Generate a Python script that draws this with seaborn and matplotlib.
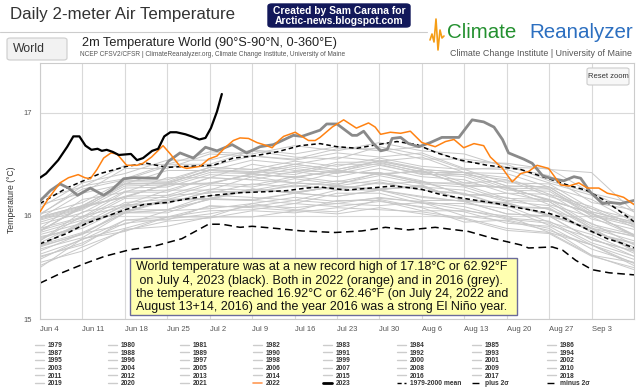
import numpy as np
import pandas as pd
import matplotlib.pyplot as plt
import seaborn as sns
import matplotlib.transforms as mtransforms
from matplotlib.lines import Line2D
from matplotlib.patches import FancyBboxPatch, Rectangle

W, H = 640, 392  # figure size in pixels

# x axis = days after Jun 4
tick_days = [0, 7, 14, 21, 28, 35, 42, 49, 56, 63, 70, 77, 84, 91]
tick_labels = ['Jun 4', 'Jun 11', 'Jun 18', 'Jun 25', 'Jul 2', 'Jul 9', 'Jul 16',
               'Jul 23', 'Jul 30', 'Aug 6', 'Aug 13', 'Aug 20', 'Aug 27', 'Sep 3']

# background years (read roughly, weekly)
grid_days = [0, 7, 14, 21, 28, 35, 42, 49, 56, 63, 70, 77, 84, 91, 98]
grey_years = {
    1979: [15.60, 15.74, 15.93, 15.97, 16.02, 16.10, 16.08, 16.12, 16.10, 16.13, 16.00, 15.95, 15.86, 15.72, 15.52],
    1980: [15.66, 15.83, 15.92, 16.05, 16.07, 16.12, 16.18, 16.14, 16.17, 16.14, 16.09, 15.98, 15.95, 15.74, 15.61],
    1981: [15.71, 15.82, 16.06, 16.06, 16.20, 16.18, 16.15, 16.25, 16.25, 16.15, 16.15, 16.10, 15.94, 15.82, 15.64],
    1982: [15.52, 15.70, 15.86, 15.95, 15.98, 16.05, 16.03, 16.08, 16.06, 16.04, 15.98, 15.88, 15.84, 15.62, 15.48],
    1983: [15.80, 15.88, 16.08, 16.15, 16.17, 16.26, 16.22, 16.29, 16.25, 16.30, 16.14, 16.12, 16.00, 15.88, 15.66],
    1984: [15.58, 15.78, 15.88, 15.99, 16.05, 16.06, 16.12, 16.09, 16.14, 16.09, 16.04, 15.93, 15.90, 15.68, 15.55],
    1985: [15.50, 15.78, 15.85, 15.99, 15.99, 16.12, 16.06, 16.04, 16.16, 16.08, 15.94, 15.96, 15.88, 15.62, 15.55],
    1986: [15.63, 15.77, 15.96, 15.99, 16.09, 16.09, 16.15, 16.12, 16.18, 16.13, 16.06, 15.97, 15.93, 15.72, 15.58],
    1987: [15.74, 15.94, 16.03, 16.15, 16.16, 16.25, 16.23, 16.28, 16.26, 16.28, 16.15, 16.12, 16.01, 15.86, 15.70],
    1988: [15.82, 15.93, 16.13, 16.16, 16.26, 16.25, 16.32, 16.29, 16.35, 16.28, 16.25, 16.14, 16.10, 15.88, 15.76],
    1989: [15.68, 15.79, 16.03, 16.03, 16.17, 16.15, 16.12, 16.22, 16.22, 16.12, 16.12, 16.07, 15.91, 15.79, 15.61],
    1990: [15.78, 15.91, 16.10, 16.13, 16.23, 16.23, 16.29, 16.26, 16.32, 16.25, 16.21, 16.09, 16.07, 15.84, 15.73],
    1991: [15.71, 15.93, 16.04, 16.16, 16.17, 16.26, 16.22, 16.29, 16.26, 16.29, 16.15, 16.13, 16.00, 15.88, 15.67],
    1992: [15.55, 15.66, 15.87, 15.90, 15.99, 15.99, 16.05, 16.02, 16.08, 16.02, 15.97, 15.86, 15.83, 15.61, 15.50],
    1993: [15.61, 15.72, 15.96, 15.96, 16.10, 16.08, 16.05, 16.15, 16.15, 16.05, 16.05, 16.00, 15.84, 15.72, 15.54],
    1994: [15.72, 15.84, 16.03, 16.06, 16.16, 16.16, 16.22, 16.19, 16.25, 16.18, 16.14, 16.02, 16.00, 15.77, 15.66],
    1995: [15.76, 16.00, 16.09, 16.20, 16.22, 16.31, 16.28, 16.34, 16.31, 16.33, 16.21, 16.18, 16.06, 15.93, 15.72],
    1996: [15.70, 15.83, 16.03, 16.06, 16.16, 16.15, 16.22, 16.19, 16.25, 16.19, 16.14, 16.02, 16.00, 15.77, 15.66],
    1997: [15.76, 16.04, 16.11, 16.25, 16.25, 16.38, 16.32, 16.30, 16.42, 16.34, 16.20, 16.22, 16.14, 15.88, 15.81],
    1998: [15.97, 16.08, 16.29, 16.30, 16.42, 16.41, 16.48, 16.43, 16.51, 16.43, 16.40, 16.27, 16.26, 16.02, 15.92],
    1999: [15.70, 15.95, 16.04, 16.16, 16.17, 16.26, 16.23, 16.29, 16.26, 16.29, 16.15, 16.13, 16.01, 15.88, 15.67],
    2000: [15.79, 15.90, 16.11, 16.12, 16.24, 16.23, 16.30, 16.25, 16.33, 16.25, 16.22, 16.09, 16.08, 15.84, 15.74],
    2001: [15.88, 15.99, 16.23, 16.23, 16.37, 16.35, 16.32, 16.42, 16.42, 16.32, 16.32, 16.27, 16.11, 15.99, 15.81],
    2002: [15.92, 16.03, 16.24, 16.25, 16.37, 16.35, 16.43, 16.38, 16.46, 16.38, 16.35, 16.22, 16.21, 15.97, 15.87],
    2003: [15.85, 16.09, 16.18, 16.31, 16.31, 16.41, 16.37, 16.44, 16.40, 16.44, 16.29, 16.28, 16.15, 16.03, 15.81],
    2004: [15.86, 15.98, 16.19, 16.20, 16.32, 16.30, 16.38, 16.33, 16.41, 16.33, 16.30, 16.17, 16.16, 15.92, 15.82],
    2005: [15.88, 16.16, 16.23, 16.37, 16.37, 16.50, 16.44, 16.42, 16.54, 16.46, 16.32, 16.34, 16.26, 16.00, 15.93],
    2006: [15.94, 16.06, 16.27, 16.28, 16.40, 16.38, 16.46, 16.41, 16.49, 16.41, 16.38, 16.25, 16.24, 16.00, 15.90],
    2007: [15.86, 16.08, 16.19, 16.30, 16.32, 16.40, 16.38, 16.43, 16.41, 16.43, 16.30, 16.27, 16.16, 16.02, 15.82],
    2008: [15.84, 15.96, 16.17, 16.18, 16.30, 16.28, 16.36, 16.31, 16.39, 16.31, 16.28, 16.15, 16.14, 15.90, 15.80],
    2009: [15.98, 16.09, 16.33, 16.33, 16.47, 16.45, 16.42, 16.52, 16.52, 16.42, 16.42, 16.37, 16.21, 16.09, 15.91],
    2010: [16.02, 16.13, 16.34, 16.35, 16.47, 16.45, 16.53, 16.48, 16.56, 16.48, 16.45, 16.32, 16.31, 16.07, 15.97],
    2011: [15.85, 16.10, 16.18, 16.31, 16.31, 16.41, 16.37, 16.44, 16.40, 16.44, 16.29, 16.28, 16.15, 16.03, 15.81],
    2012: [15.99, 16.10, 16.31, 16.32, 16.44, 16.42, 16.50, 16.45, 16.53, 16.45, 16.42, 16.29, 16.28, 16.04, 15.94],
    2013: [15.96, 16.07, 16.31, 16.31, 16.45, 16.43, 16.40, 16.50, 16.50, 16.40, 16.40, 16.35, 16.19, 16.07, 15.89],
    2014: [15.99, 16.10, 16.31, 16.32, 16.44, 16.42, 16.50, 16.45, 16.53, 16.45, 16.42, 16.29, 16.28, 16.04, 15.94],
    2015: [16.02, 16.26, 16.35, 16.48, 16.48, 16.58, 16.54, 16.61, 16.57, 16.61, 16.46, 16.45, 16.32, 16.20, 15.98],
    2017: [16.01, 16.29, 16.36, 16.50, 16.50, 16.63, 16.57, 16.55, 16.67, 16.59, 16.45, 16.47, 16.39, 16.13, 16.06],
    2018: [15.98, 16.22, 16.31, 16.44, 16.44, 16.54, 16.50, 16.57, 16.53, 16.57, 16.42, 16.41, 16.28, 16.16, 15.94],
    2019: [16.17, 16.28, 16.49, 16.50, 16.62, 16.60, 16.68, 16.63, 16.71, 16.63, 16.60, 16.47, 16.46, 16.22, 16.12],
    2020: [16.08, 16.32, 16.41, 16.54, 16.54, 16.64, 16.60, 16.67, 16.63, 16.67, 16.52, 16.51, 16.45, 16.42, 16.04],
    2021: [16.11, 16.22, 16.46, 16.46, 16.60, 16.58, 16.55, 16.65, 16.65, 16.55, 16.55, 16.50, 16.34, 16.22, 16.04],
}

days_2023 = [0, 1, 3, 4.5, 5.5, 6.5, 7.5, 8.5, 9.5, 10.2, 11, 12, 13, 15, 16, 17, 18.5, 19.5,
             20.5, 21.5, 22.5, 24, 25, 26.3, 27.3, 28.2, 29.2, 30]
temp_2023 = [16.37, 16.41, 16.54, 16.67, 16.77, 16.77, 16.68, 16.64, 16.65, 16.63, 16.64, 16.62,
             16.59, 16.60, 16.54, 16.56, 16.63, 16.65, 16.77, 16.81, 16.81, 16.79, 16.77, 16.74,
             16.755, 16.85, 17.01, 17.18]

days_2022 = [0, 1.4, 3.3, 4.7, 6.3, 7.4, 8.3, 9.4, 10.5, 11.7, 12.7, 14.3, 16, 17, 18.4, 20.3,
             21.5, 23.1, 24.2, 26.4, 27.8, 29.2, 30.5, 31.9, 33, 34.4, 35.8, 36.9, 38.3, 39.4,
             40.2, 42.1, 43.2, 44.3, 45.4, 46.2, 48.2, 50.1, 52.2, 54.2, 55.3, 56.2, 57.8, 59.5,
             61.1, 63, 65.2, 66.9, 68.3, 69.9, 71.6, 73.2, 74.3, 76.3, 77.9, 79.3, 80.6, 82,
             83.9, 85.9, 87.3, 88.9, 90.3, 92.2, 93.6, 95.2, 96.3, 98]
temp_2022 = [16.04, 16.17, 16.32, 16.37, 16.40, 16.37, 16.36, 16.45, 16.56, 16.61, 16.60, 16.49,
             16.49, 16.51, 16.57, 16.68, 16.60, 16.48, 16.46, 16.48, 16.55, 16.58, 16.66, 16.73,
             16.755, 16.75, 16.71, 16.69, 16.66, 16.73, 16.77, 16.81, 16.77, 16.73, 16.73, 16.76,
             16.86, 16.93, 16.85, 16.90, 16.86, 16.79, 16.81, 16.80, 16.82, 16.71, 16.67, 16.72,
             16.74, 16.66, 16.70, 16.68, 16.57, 16.46, 16.33, 16.41, 16.43, 16.49, 16.46, 16.30,
             16.29, 16.32, 16.27, 16.27, 16.22, 16.20, 16.18, 16.11]

days_2016 = [0, 1.7, 3.3, 4.7, 6.2, 8.3, 10.5, 11.8, 13.8, 15.4, 19.3, 21.2, 23.1, 25.3, 27.3,
             29.2, 31.7, 34.1, 36.3, 38.5, 41.8, 43.2, 46.2, 47.3, 49, 51.5, 52.3, 53.4, 55,
             56.2, 57.3, 58.1, 59.5, 60.8, 62.5, 64.4, 66.3, 69.1, 71.3, 73.2, 74.9, 76.3, 77.3,
             79.8, 81.2, 82.9, 84.2, 86.4, 88.1, 89.2, 90.8, 92.8, 94.1, 95.8, 98]
temp_2016 = [16.145, 16.245, 16.31, 16.27, 16.20, 16.27, 16.20, 16.25, 16.36, 16.37, 16.365,
             16.53, 16.61, 16.56, 16.665, 16.63, 16.69, 16.61, 16.67, 16.69, 16.78, 16.77, 16.83,
             16.89, 16.89, 16.78, 16.78, 16.82, 16.70, 16.63, 16.645, 16.75, 16.76, 16.70, 16.67,
             16.71, 16.76, 16.76, 16.93, 16.91, 16.86, 16.74, 16.61, 16.55, 16.51, 16.39, 16.365,
             16.34, 16.38, 16.365, 16.23, 16.12, 16.13, 16.12, 16.15]

mean_days = [0, 4.4, 7.7, 11.6, 14.3, 17.1, 20.9, 24.8, 28.6, 33, 37.4, 40.7, 44, 46.2, 50.6,
             54.5, 58.3, 62.8, 66.6, 71, 75.4, 79.3, 83.7, 86.4, 90.3, 93.6, 95.8, 98]
mean_temp = [15.73, 15.83, 15.93, 16.01, 16.065, 16.11, 16.13, 16.17, 16.20, 16.225, 16.235,
             16.245, 16.27, 16.28, 16.25, 16.27, 16.29, 16.26, 16.20, 16.16, 16.12, 16.075,
             16.03, 15.98, 15.87, 15.78, 15.74, 15.69]

plus_days = [0, 4.4, 9.9, 14.3, 17.6, 20.9, 24.2, 28.6, 31.9, 35.2, 39.1, 42.9, 46.2, 49, 52.3,
             55.6, 58.9, 62.2, 65.5, 69.4, 73.8, 79.3, 83.7, 87, 90.3, 93, 95.8, 98]
plus_temp = [16.12, 16.27, 16.41, 16.48, 16.51, 16.47, 16.48, 16.49, 16.56, 16.58, 16.62, 16.68,
             16.70, 16.67, 16.655, 16.69, 16.72, 16.69, 16.61, 16.54, 16.49, 16.45, 16.365,
             16.30, 16.245, 16.155, 16.04, 15.945]

minus_days = [0, 3.6, 7.4, 10.7, 14.6, 19, 23.4, 27.8, 30, 33, 35, 38.8, 43.2, 48.7, 53.1, 57,
              60.8, 65.2, 70.7, 74.9, 79.3, 80.6, 84.5, 86.2, 88.4, 91.1, 93.9, 98]
minus_temp = [15.35, 15.45, 15.54, 15.61, 15.67, 15.71, 15.78, 15.92, 15.92, 15.89, 15.90, 15.88,
              15.855, 15.84, 15.855, 15.89, 15.865, 15.89, 15.85, 15.78, 15.72, 15.69, 15.70,
              15.67, 15.57, 15.48, 15.45, 15.43]

note_lines = ['World temperature was at a new record high of 17.18°C or 62.92°F',
              ' on July 4, 2023 (black). Both in 2022 (orange) and in 2016 (grey).',
              'the temperature reached 16.92°C or 62.46°F (on July 24, 2022 and',
              'August 13+14, 2016) and the year 2016 was a strong El Niño year.']

sns.set_theme(style="white")
plt.rcParams['font.family'] = ['Liberation Sans', 'DejaVu Sans']


def fx(px):
    return px / W


def fy(py):
    return 1 - py / H


fig = plt.figure(figsize=(6.4, 3.92), dpi=100)
ax = fig.add_axes([fx(40), fy(319.3), (634 - 40) / W, (319.3 - 63) / H])

grey_df = pd.DataFrame([(yr, d, t) for yr, vals in grey_years.items()
                        for d, t in zip(grid_days, vals)], columns=['year', 'day', 'temp'])
sns.lineplot(data=grey_df, x='day', y='temp', units='year', estimator=None,
             color='#c8c8c8', linewidth=0.7, ax=ax, legend=False, zorder=1)

sns.lineplot(x=minus_days, y=minus_temp, color='black', linewidth=1.1,
             linestyle=(0, (5, 3)), errorbar=None, ax=ax, zorder=2)
sns.lineplot(x=mean_days, y=mean_temp, color='black', linewidth=1.1,
             linestyle=(0, (3, 2)), errorbar=None, ax=ax, zorder=2)
sns.lineplot(x=plus_days, y=plus_temp, color='black', linewidth=1.1,
             linestyle=(0, (3, 2)), errorbar=None, ax=ax, zorder=2)
sns.lineplot(x=days_2016, y=temp_2016, color='#8a8a8a', linewidth=2.0,
             errorbar=None, ax=ax, zorder=3)
sns.lineplot(x=days_2022, y=temp_2022, color='#ff8212', linewidth=1.1,
             errorbar=None, ax=ax, zorder=4)
sns.lineplot(x=days_2023, y=temp_2023, color='black', linewidth=1.6,
             errorbar=None, ax=ax, zorder=5)

ax.set_xlim(0, 98)
ax.set_ylim(15, 17.48)
ax.set_xticks(tick_days)
ax.set_xticklabels(tick_labels, ha='left')
offset = mtransforms.ScaledTranslation(2 / 72, 0, fig.dpi_scale_trans)
for lab in ax.get_xticklabels():
    lab.set_transform(lab.get_transform() + offset)
ax.set_yticks([15, 16, 17])
ax.grid(True, color='#d9d9d9', linewidth=0.8)
for sp in ax.spines.values():
    sp.set_color('#cccccc')
    sp.set_linewidth(0.8)
ax.tick_params(axis='both', length=0, labelsize=5.5, labelcolor='#555555')
ax.tick_params(axis='x', pad=4.5)
ax.tick_params(axis='y', pad=6)
ax.set_xlabel('')
ax.set_ylabel('Temperature (°C)', fontsize=6.2, color='#333333')
ax.yaxis.set_label_coords(-0.040, 0.465)

# header
fig.text(fx(10), fy(15), 'Daily 2-meter Air Temperature', fontsize=12.2, color='#333333', va='center')
fig.add_artist(Line2D([0, fx(427)], [fy(31.5), fy(31.5)], color='#cccccc', linewidth=0.8))
fig.add_artist(FancyBboxPatch((fx(268), fy(27)), fx(142), 23 / H,
                              boxstyle='round,pad=0,rounding_size=0.006',
                              facecolor='#12185a', edgecolor='#12185a', transform=fig.transFigure))
fig.text(fx(339), fy(10.5), 'Created by Sam Carana for', fontsize=7.4, fontweight='bold',
         color='white', ha='center', va='center')
fig.text(fx(339), fy(21), 'Arctic-news.blogspot.com', fontsize=7.4, fontweight='bold',
         color='white', ha='center', va='center')

fig.add_artist(FancyBboxPatch((fx(7), fy(60)), fx(60), 22 / H,
                              boxstyle='round,pad=0,rounding_size=0.005',
                              facecolor='#f2f2f2', edgecolor='#cccccc', linewidth=0.8,
                              transform=fig.transFigure))
fig.text(fx(13), fy(49), 'World', fontsize=8.8, color='#333333', va='center')
fig.text(fx(82), fy(43), '2m Temperature World (90°S-90°N, 0-360°E)', fontsize=9.2,
         color='#222222', va='center')
fig.text(fx(80), fy(54.5), 'NCEP CFSV2/CFSR | ClimateReanalyzer.org, Climate Change Institute, University of Maine',
         fontsize=4.7, color='#555555', va='center')

# Climate Reanalyzer logo
zig_x = [430, 432, 434, 436, 438, 440, 442, 444]
zig_y = [40, 34, 42, 19, 50, 30, 38, 36]
fig.add_artist(Line2D([fx(v) for v in zig_x], [fy(v) for v in zig_y], color='#f59d16', linewidth=1.2))
fig.text(fx(447), fy(33), 'Climate', fontsize=14.8, color='#23902f', va='center')
fig.text(fx(633), fy(33), 'Reanalyzer', fontsize=14.8, color='#2c6fc0', va='center', ha='right')
fig.text(fx(632), fy(53), 'Climate Change Institute | University of Maine', fontsize=6.4,
         color='#555555', va='center', ha='right')

# reset zoom button
fig.add_artist(FancyBboxPatch((fx(587), fy(85)), fx(42), 17 / H,
                              boxstyle='round,pad=0,rounding_size=0.004',
                              facecolor='#f7f7f7', edgecolor='#cccccc', linewidth=0.8,
                              transform=fig.transFigure))
fig.text(fx(608), fy(76.5), 'Reset zoom', fontsize=5.5, color='#333333', ha='center', va='center')

# note box
fig.add_artist(Rectangle((fx(130), fy(315)), fx(387), 57 / H, facecolor='#ffffb0',
                         edgecolor='#6b6b9a', linewidth=1.0, transform=fig.transFigure, zorder=6))
for line, ypx in zip(note_lines, [267, 281, 294, 307]):
    fig.text(fx(136), fy(ypx), line, fontsize=9.0, color='#111111', va='center', zorder=7)

# legend: 8 columns x 6 rows
years_all = list(range(1979, 2024))
entries = []
for yr in years_all:
    if yr == 2022:
        h = Line2D([], [], color='#ff9a55', linewidth=1.2)
    elif yr == 2023:
        h = Line2D([], [], color='black', linewidth=2.0)
    else:
        h = Line2D([], [], color='#cccccc', linewidth=1.0)
    entries.append((h, str(yr)))
entries.append((Line2D([], [], color='black', linewidth=1.0, linestyle=(0, (3, 2))), '1979-2000 mean'))
entries.append((Line2D([], [], color='black', linewidth=1.0, linestyle=(0, (5, 2, 2, 2))), 'plus 2σ'))
entries.append((Line2D([], [], color='black', linewidth=1.0, linestyle=(0, (5, 2, 2, 2))), 'minus 2σ'))

col_x = [35, 108, 180, 253, 323, 397, 472, 547]
for c, x0 in enumerate(col_x):
    col = [entries[r * 8 + c] for r in range(6)]
    leg = fig.legend(handles=[e[0] for e in col], labels=[e[1] for e in col],
                     loc='upper left', bbox_to_anchor=(fx(x0), fy(342)), frameon=False,
                     prop={'size': 4.8, 'weight': 'bold'}, handlelength=1.3,
                     handletextpad=0.6, labelspacing=0.1, borderpad=0, borderaxespad=0)
    for t in leg.get_texts():
        t.set_color('#333333')

fig.savefig('out.png', dpi=100)
